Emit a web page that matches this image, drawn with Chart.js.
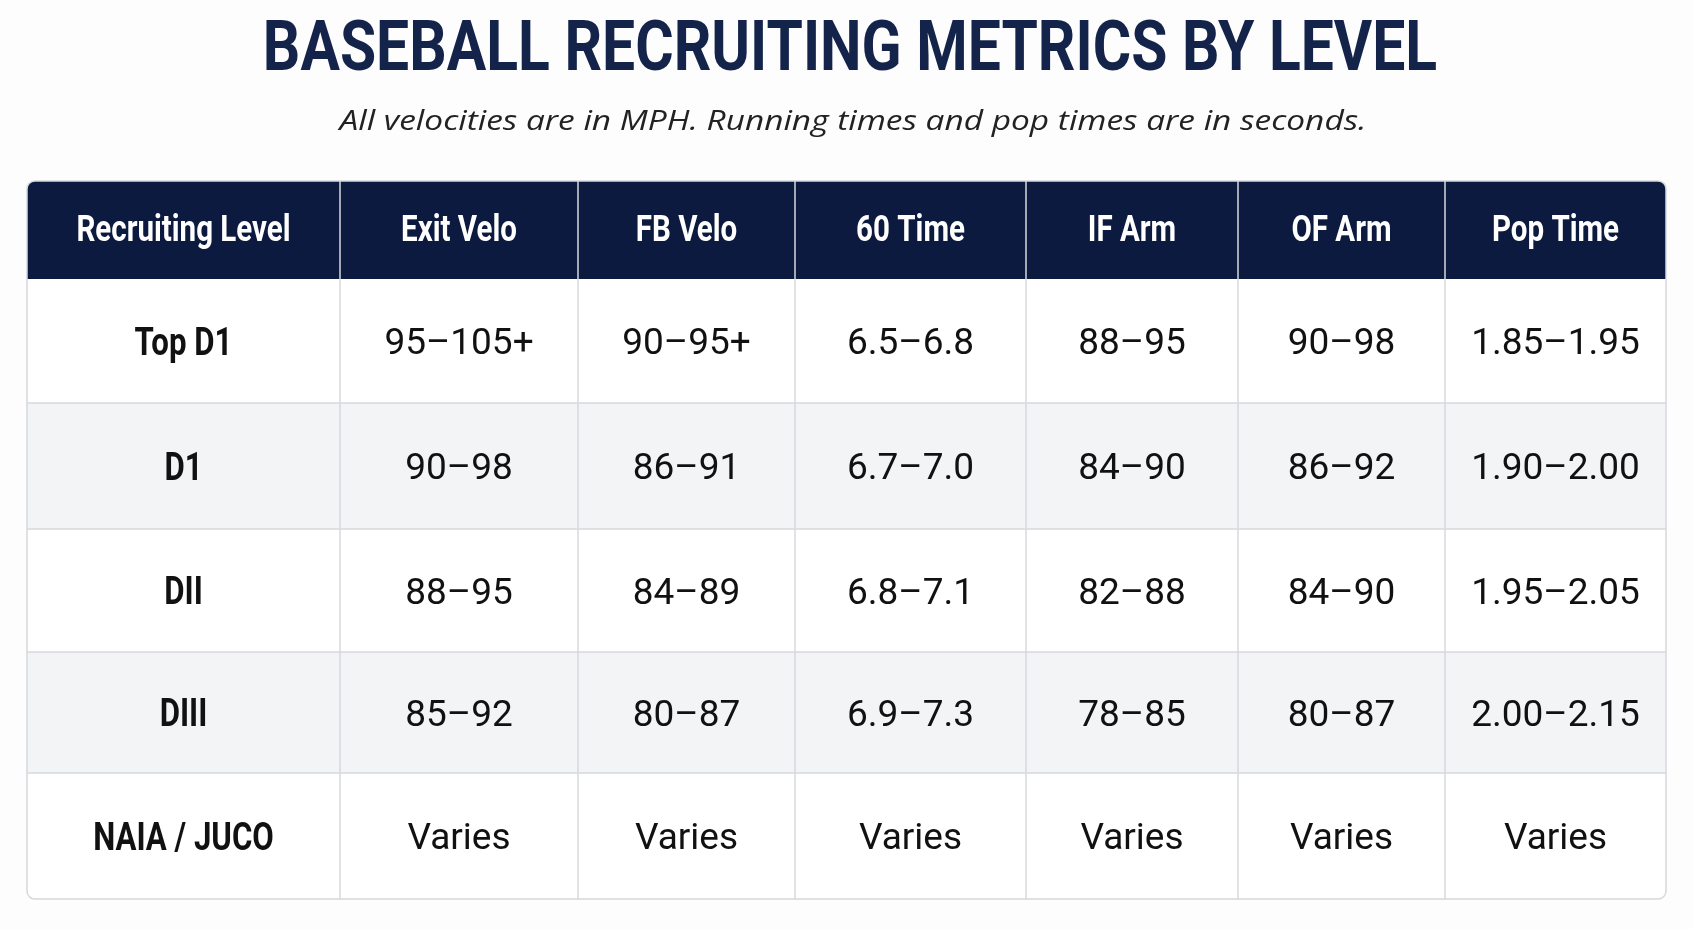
<!DOCTYPE html>
<html><head><meta charset="utf-8">
<script src="https://cdn.jsdelivr.net/npm/chart.js@4"></script>
<style>html,body{margin:0;background:#fdfdfd}#wrap{width:1693px;height:929px}</style>
</head><body><div id="wrap"><canvas id="c"></canvas></div>
<script>
const headers = ["Recruiting Level", "Exit Velo", "FB Velo", "60 Time", "IF Arm", "OF Arm", "Pop Time"];
const levels = ["Top D1", "D1", "DII", "DIII", "NAIA / JUCO"];
const exitVelo = ["95–105+", "90–98", "88–95", "85–92", "Varies"];
const fbVelo = ["90–95+", "86–91", "84–89", "80–87", "Varies"];
const sixtyTime = ["6.5–6.8", "6.7–7.0", "6.8–7.1", "6.9–7.3", "Varies"];
const ifArm = ["88–95", "84–90", "82–88", "78–85", "Varies"];
const ofArm = ["90–98", "86–92", "84–90", "80–87", "Varies"];
const popTime = ["1.85–1.95", "1.90–2.00", "1.95–2.05", "2.00–2.15", "Varies"];
const columns = [levels, exitVelo, fbVelo, sixtyTime, ifArm, ofArm, popTime];

// layout in page pixels
const colEdges = [27, 340, 578, 795, 1026, 1238, 1445, 1666];
const rowEdges = [181, 279, 403, 529, 652, 773, 899];

function rr(ctx, x, y, w, h, r) {
  ctx.beginPath(); ctx.roundRect(x, y, w, h, r);
}

// draw text squeezed horizontally (no condensed font installed)
function squeezed(ctx, text, x, y, sx) {
  ctx.save();
  ctx.translate(x, y); ctx.scale(sx, 1);
  ctx.fillText(text, 0, 0);
  ctx.restore();
}

const tablePlugin = {
  id: "table",
  afterDraw(chart) {
    const ctx = chart.ctx, X = chart.scales.x, Y = chart.scales.y;
    const px = v => X.getPixelForValue(v), py = v => Y.getPixelForValue(v);
    ctx.save();
    ctx.textAlign = "center"; ctx.textBaseline = "middle";
    ctx.fillStyle = "#13234a";
    ctx.font = "bold 70px 'Roboto', sans-serif";
    squeezed(ctx, "BASEBALL RECRUITING METRICS BY LEVEL", px(850), py(52), 0.84);
    ctx.fillStyle = "#222";
    ctx.font = "italic 27px 'Open Sans', sans-serif";
    const sub = "All velocities are in MPH. Running times and pop times are in seconds.";
    squeezed(ctx, sub, px(853), py(122), 1027 / ctx.measureText(sub).width);

    const L = px(colEdges[0]), R = px(colEdges[7]), T = py(rowEdges[0]), B = py(rowEdges[6]);
    ctx.save();
    rr(ctx, L, T, R - L, B - T, 8); ctx.clip();
    ctx.fillStyle = "#fff"; ctx.fillRect(L, T, R - L, B - T);
    ctx.fillStyle = "#0b1a3e"; ctx.fillRect(L, T, R - L, py(rowEdges[1]) - T);
    levels.forEach((_, r) => {
      if (r % 2 === 1) {
        ctx.fillStyle = "#f3f4f6";
        ctx.fillRect(L, py(rowEdges[r + 1]), R - L, py(rowEdges[r + 2]) - py(rowEdges[r + 1]));
      }
    });
    ctx.strokeStyle = "#d6d8dc"; ctx.lineWidth = 1.5;
    for (let i = 1; i < colEdges.length - 1; i++) {
      ctx.beginPath(); ctx.moveTo(px(colEdges[i]), T); ctx.lineTo(px(colEdges[i]), B); ctx.stroke();
    }
    for (let j = 2; j < rowEdges.length - 1; j++) {
      ctx.beginPath(); ctx.moveTo(L, py(rowEdges[j])); ctx.lineTo(R, py(rowEdges[j])); ctx.stroke();
    }
    ctx.restore();
    ctx.strokeStyle = "#d6d8dc"; ctx.lineWidth = 1.5;
    rr(ctx, L, T, R - L, B - T, 8); ctx.stroke();

    headers.forEach((h, c) => {
      const cx = (px(colEdges[c]) + px(colEdges[c + 1])) / 2;
      ctx.fillStyle = "#fff";
      ctx.font = "bold 36px 'Roboto', sans-serif";
      squeezed(ctx, h, cx, (py(rowEdges[0]) + py(rowEdges[1])) / 2 + 2, 0.82);
      columns[c].forEach((v, r) => {
        const cy = (py(rowEdges[r + 1]) + py(rowEdges[r + 2])) / 2 + 4;
        ctx.fillStyle = "#111";
        if (c === 0) {
          ctx.font = "bold 39px 'Roboto', sans-serif";
          squeezed(ctx, v, cx, cy, 0.8);
        } else {
          ctx.font = "37px 'Roboto', sans-serif";
          ctx.fillText(v, cx, cy);
        }
      });
    });
    ctx.restore();
  }
};

new Chart(document.getElementById("c"), {
  type: "scatter",
  data: { datasets: [{ data: [] }] },
  options: {
    responsive: true, maintainAspectRatio: false, animation: false,
    layout: { padding: 0 },
    plugins: { legend: { display: false }, tooltip: { enabled: false } },
    scales: {
      x: { type: "linear", min: 0, max: 1693, display: false },
      y: { type: "linear", min: 0, max: 929, reverse: true, display: false }
    }
  },
  plugins: [tablePlugin]
});
</script></body></html>
